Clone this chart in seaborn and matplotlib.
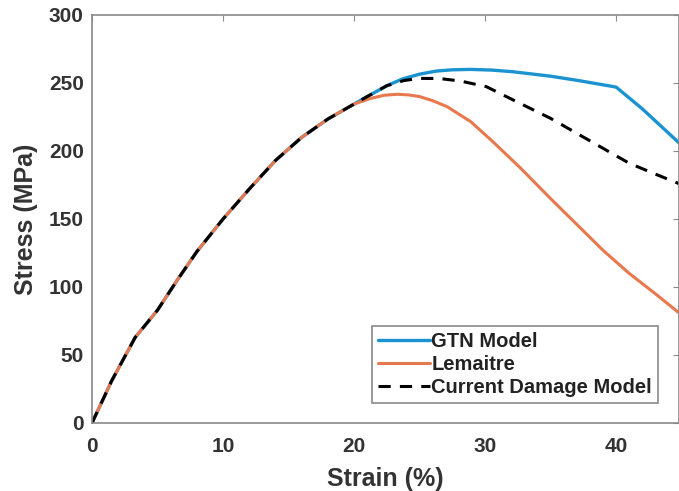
import matplotlib
matplotlib.use("Agg")
import matplotlib.pyplot as plt
import seaborn as sns

# shared elastic-plastic part (all three models agree up to ~20 %)
common_strain = [0, 1.5, 3.3, 5, 6.5, 8, 10, 12, 14, 16, 18, 20]
common_stress = [0, 31, 63, 83, 105, 126, 150, 172, 193, 210, 223.5, 234.5]

gtn_strain = common_strain + [21, 22.5, 23.7, 25, 26.3, 27.5, 28.9, 30.5, 32.1, 35, 37, 40, 42, 44.8]
gtn_stress = common_stress + [240, 248, 253, 256.5, 258.8, 259.7, 260, 259.5, 258.3, 255, 252, 247, 231, 206]

lem_strain = common_strain + [21.2, 22.3, 23.3, 24.2, 25, 26, 27.1, 28.9, 30.6, 32.7, 35, 37, 39, 41, 43, 44.8]
lem_stress = common_stress + [238.5, 241, 241.7, 241.2, 240, 237, 232.6, 221.6, 206.8, 187.5, 165, 146, 127, 110, 95, 81]

cdm_strain = common_strain + [21, 22.5, 23.8, 25, 26.5, 28.1, 30.1, 32.4, 35, 37, 39, 41, 43, 44.8]
cdm_stress = common_stress + [240, 248, 251.8, 253.4, 253.3, 251.5, 247.3, 236.3, 224, 213, 202, 191, 183, 176]

x_ticks = [0, 10, 20, 30, 40]
y_ticks = [0, 50, 100, 150, 200, 250, 300]

sns.set_style("white")
plt.rcParams['font.family'] = ['Liberation Sans', 'DejaVu Sans']
plt.rcParams['font.weight'] = 'bold'

fig = plt.figure(figsize = (6.79, 4.91), dpi = 100)
ax = fig.add_axes([92 / 679, 1 - 423 / 491, 1 - 92 / 679, (423 - 15) / 491])

sns.lineplot(x = gtn_strain, y = gtn_stress, ax = ax, color = "#1a93d0",
             linewidth = 2.4, label = "GTN Model", sort = False)
sns.lineplot(x = lem_strain, y = lem_stress, ax = ax, color = "#e8784e",
             linewidth = 2.2, label = "Lemaitre", sort = False)
sns.lineplot(x = cdm_strain, y = cdm_stress, ax = ax, color = "black",
             linewidth = 2.2, linestyle = (0, (4, 3)), label = "Current Damage Model",
             sort = False)

ax.set_xlim(0, 44.8)
ax.set_ylim(0, 300)
ax.set_xticks(x_ticks)
ax.set_yticks(y_ticks)
ax.tick_params(direction = "in", length = 4, color = "#8a8a8a", labelsize = 15,
               labelcolor = "#333333", top = True, right = True)
ax.tick_params(axis = "x", pad = 10)
ax.tick_params(axis = "y", pad = 6)
for lab in ax.get_xticklabels() + ax.get_yticklabels():
    lab.set_fontweight("bold")
for side in ax.spines.values():
    side.set_color("#8a8a8a")
    side.set_linewidth(1.2)

ax.set_xlabel("Strain (%)", fontsize = 18, fontweight = "bold", color = "#333333", labelpad = 8)
ax.set_ylabel("Stress (MPa)", fontsize = 18, fontweight = "bold", color = "#333333", labelpad = 8)

leg = ax.legend(loc = "lower right", bbox_to_anchor = (0.964, 0.049), fontsize = 14.5,
                handlelength = 2.6, handletextpad = 0.05, labelspacing = 0.2,
                borderpad = 0.3, borderaxespad = 0, fancybox = False, framealpha = 1)
leg.get_frame().set_edgecolor("#8a8a8a")
leg.get_frame().set_linewidth(1.2)
for t in leg.get_texts():
    t.set_fontweight("bold")
    t.set_color("#222222")

plt.savefig("out.png", dpi = 100)
plt.close()
